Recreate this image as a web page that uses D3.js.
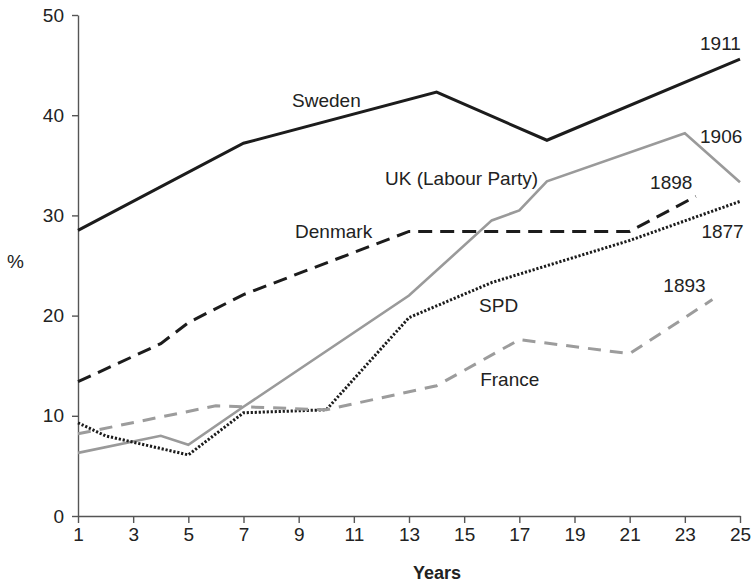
<!DOCTYPE html>
<html>
<head>
<meta charset="utf-8">
<script src="https://cdn.jsdelivr.net/npm/d3@7"></script>
<style>
  html, body { margin: 0; padding: 0; background: #fff; }
  svg { display: block; }
  text { font-family: "Liberation Sans", Arial, Helvetica, sans-serif; fill: #222; }
</style>
</head>
<body>
<svg id="chart" width="753" height="584"></svg>
<script>
// ---------- data ----------
const xTicks = [1, 3, 5, 7, 9, 11, 13, 15, 17, 19, 21, 23, 25];
const yTicks = [0, 10, 20, 30, 40, 50];

const swedenYears = [1, 7, 14, 18, 25];
const swedenVals  = [28.5, 37.2, 42.3, 37.5, 45.6];

const ukYears = [1, 4, 5, 7, 13, 16, 17, 18, 23, 25];
const ukVals  = [6.3, 8.0, 7.1, 10.9, 22.0, 29.5, 30.5, 33.4, 38.2, 33.3];

const denmarkYears = [1, 4, 5, 7, 13, 21, 23.4];
const denmarkVals  = [13.4, 17.2, 19.3, 22.1, 28.4, 28.4, 31.9];

const spdYears = [1, 2, 5, 7, 10, 13, 16, 21, 25];
const spdVals  = [9.3, 8.0, 6.1, 10.3, 10.6, 19.8, 23.3, 27.5, 31.4];

const franceYears = [1, 6, 7, 10, 14, 17, 21, 24];
const franceVals  = [8.2, 11.0, 10.9, 10.6, 13.0, 17.6, 16.2, 21.6];

const seriesNames = ["Sweden", "UK (Labour Party)", "Denmark", "SPD", "France"];
const endYears    = ["1911", "1906", "1898", "1877", "1893"];

// ---------- layout ----------
const svg = d3.select("#chart");
const x = d3.scaleLinear().domain([1, 25]).range([78, 740]);
const y = d3.scaleLinear().domain([0, 50]).range([516, 15]);

const styles = [
  { years: swedenYears,  vals: swedenVals,  color: "#1c1c1c", width: 3,   dash: null },
  { years: ukYears,      vals: ukVals,      color: "#9a9a9a", width: 2.6, dash: null },
  { years: denmarkYears, vals: denmarkVals, color: "#1c1c1c", width: 3,   dash: "14,8" },
  { years: spdYears,     vals: spdVals,     color: "#1c1c1c", width: 3,   dash: "2.2,1.8" },
  { years: franceYears,  vals: franceVals,  color: "#9c9c9c", width: 3,   dash: "13,9" }
];

// axes
const xAxis = d3.axisBottom(x).tickValues(xTicks).tickSize(7).tickSizeOuter(0).tickPadding(5).tickFormat(d3.format("d"));
const yAxis = d3.axisLeft(y).tickValues(yTicks).tickSize(6).tickSizeOuter(0).tickPadding(8);

const gx = svg.append("g").attr("transform", `translate(0,${y(0)})`).call(xAxis);
const gy = svg.append("g").attr("transform", `translate(${x(1)},0)`).call(yAxis);
[gx, gy].forEach(g => {
  g.selectAll("path.domain").attr("stroke", "#555").attr("stroke-width", 1.4);
  g.selectAll(".tick line").attr("stroke", "#555").attr("stroke-width", 1.4);
  g.selectAll(".tick text").style("font-size", "19px").style("font-family", "'Liberation Sans', Arial, sans-serif").attr("fill", "#222");
});

// lines
const line = d3.line().x(d => x(d[0])).y(d => y(d[1]));
styles.forEach(s => {
  const pts = s.years.map((yr, i) => [yr, s.vals[i]]);
  svg.append("path")
    .attr("d", line(pts))
    .attr("fill", "none")
    .attr("stroke", s.color)
    .attr("stroke-width", s.width)
    .attr("stroke-linejoin", "miter")
    .attr("stroke-dasharray", s.dash);
});

// series labels (positions in data units: year, %)
const nameAnchors = [[8.76, 40.8], [12.13, 33.0], [8.87, 27.7], [15.54, 20.35], [15.58, 12.95]];
const yearAnchors = [[23.55, 46.5], [23.55, 37.2], [21.74, 32.6], [23.6, 27.7], [22.22, 22.35]];

seriesNames.forEach((n, i) => {
  svg.append("text").attr("x", x(nameAnchors[i][0])).attr("y", y(nameAnchors[i][1]))
    .style("font-size", "19px").text(n);
});
endYears.forEach((n, i) => {
  svg.append("text").attr("x", x(yearAnchors[i][0])).attr("y", y(yearAnchors[i][1]))
    .style("font-size", "19px").text(n);
});

// axis titles
svg.append("text").attr("x", 7).attr("y", 268).style("font-size", "19px").text("%");
svg.append("text").attr("x", 437).attr("y", 579).attr("text-anchor", "middle")
  .style("font-size", "18px").style("font-weight", "bold").text("Years");
</script>
</body>
</html>
